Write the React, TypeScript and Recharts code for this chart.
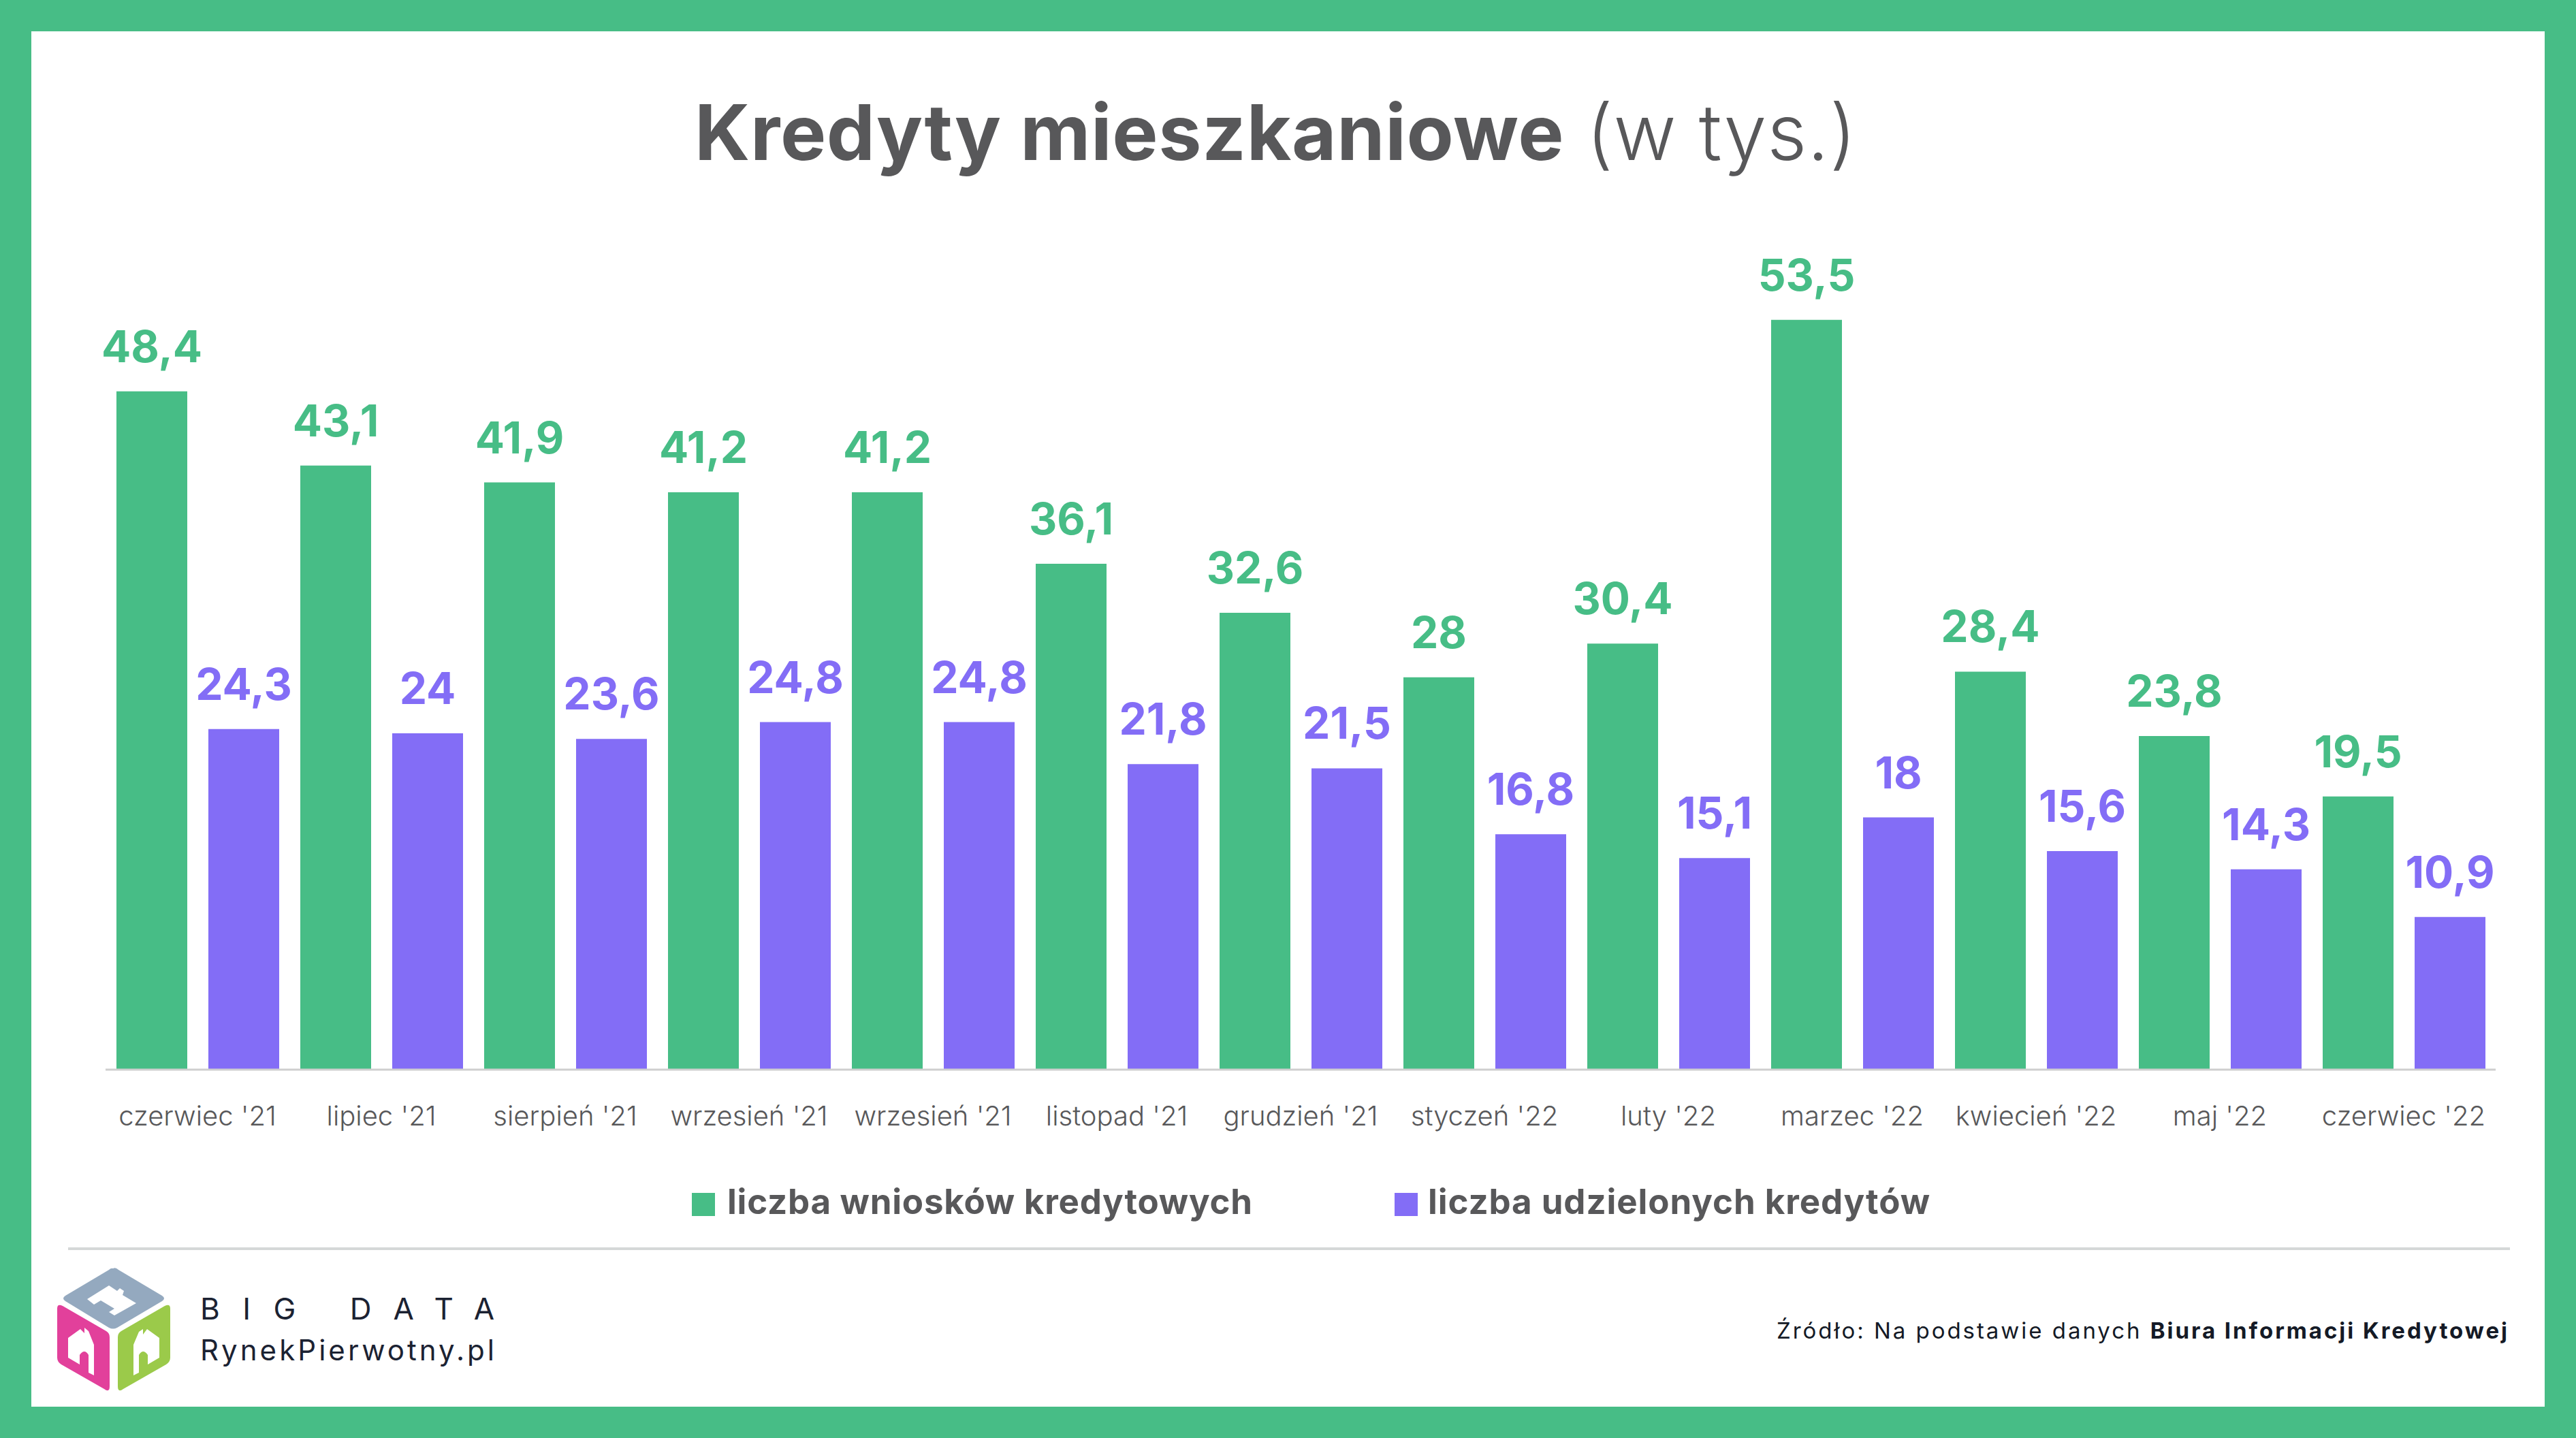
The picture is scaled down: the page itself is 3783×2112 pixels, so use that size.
import React from "react";
import { BarChart, Bar, XAxis, YAxis, LabelList } from "recharts";

// Months on the category axis
const months = [
  "czerwiec '21",
  "lipiec '21",
  "sierpień '21",
  "wrzesień '21",
  "wrzesień '21",
  "listopad '21",
  "grudzień '21",
  "styczeń '22",
  "luty '22",
  "marzec '22",
  "kwiecień '22",
  "maj '22",
  "czerwiec '22",
];

// Values in thousands
const applications = [48.4, 43.1, 41.9, 41.2, 41.2, 36.1, 32.6, 28, 30.4, 53.5, 28.4, 23.8, 19.5];
const granted = [24.3, 24, 23.6, 24.8, 24.8, 21.8, 21.5, 16.8, 15.1, 18, 15.6, 14.3, 10.9];

const seriesNames = ["liczba wniosków kredytowych", "liczba udzielonych kredytów"];

const data = months.map((month, i) => ({
  month,
  applications: applications[i],
  granted: granted[i],
}));

const W = 3783;
const H = 2112;
const GREEN = "#47BD86";
const PURPLE = "#836DF6";
const TEXT = "#58585A";
const FONT = "Inter, 'Noto Sans', sans-serif";

const fmt = (v: number) => String(v).replace(".", ",");

const MonthTick = ({ x, y, payload }: any) => (
  <text x={x} y={y + 82} textAnchor="middle" fontFamily={FONT} fontSize={40} fontWeight={300} fill={TEXT}>
    {payload.value}
  </text>
);

const valueLabel = (color: string) => (props: any) => {
  const { x, y, width, value } = props;
  return (
    <text
      x={Number(x) + Number(width) / 2}
      y={Number(y) - 43}
      textAnchor="middle"
      fontFamily={FONT}
      fontSize={64}
      fontWeight={700}
      fill={color}
    >
      {fmt(value)}
    </text>
  );
};

// Cube logo with little houses on each face
const Logo = () => (
  <g>
    <path d="M166 1863 Q170 1861 174 1865 L238 1903 Q244 1907 238 1911 L172 1950 Q166 1953 160 1950 L96 1911 Q90 1907 96 1903 L160 1865 Q163 1862 166 1863 Z" fill="#94A9BF" />
    <path d="M84 1922 Q84 1914 92 1918 L156 1955 Q161 1958 161 1964 L161 2036 Q161 2046 153 2040 L90 2004 Q84 2000 84 1994 Z" fill="#E2409B" />
    <path d="M250 1922 Q250 1914 242 1918 L178 1955 Q173 1958 173 1964 L173 2036 Q173 2046 181 2040 L244 2004 Q250 2000 250 1994 Z" fill="#9BCA4A" />
    {/* top house */}
    <path d="M128 1908 L160 1888 L172 1896 L176 1892 L182 1896 L180 1902 L200 1914 L168 1932 L160 1927 L168 1922 L148 1910 L138 1916 Z" fill="#fff" />
    {/* left house */}
    <path d="M100 1965 L118 1952 L124 1958 L124 1950 L130 1955 L138 1975 L138 2020 L130 2016 L130 1990 Q124 1980 117 1990 L117 2004 L100 1994 Z" fill="#fff" />
    {/* right house */}
    <path d="M234 1965 L216 1952 L210 1960 L210 1952 L204 1956 L196 1975 L196 2020 L204 2016 L204 1990 Q210 1980 217 1990 L217 2004 L234 1994 Z" fill="#fff" />
  </g>
);

const Overlay = () => (
  <svg width={W} height={H} style={{ position: "absolute", left: 0, top: 0, pointerEvents: "none" }}>
    <text x={1020} y={235} fontFamily={FONT} fontSize={113} fill={TEXT} textLength={1706} lengthAdjust="spacing">
      <tspan fontWeight={700}>Kredyty mieszkaniowe</tspan>
      <tspan fontWeight={300}> (w tys.)</tspan>
    </text>

    {/* legend */}
    <rect x={1016} y={1752} width={34} height={34} fill={GREEN} />
    <text x={1068} y={1783} fontFamily={FONT} fontSize={51} fontWeight={700} fill={TEXT} textLength={771} lengthAdjust="spacing">
      {seriesNames[0]}
    </text>
    <rect x={2048} y={1752} width={34} height={34} fill={PURPLE} />
    <text x={2097} y={1783} fontFamily={FONT} fontSize={51} fontWeight={700} fill={TEXT} textLength={737} lengthAdjust="spacing">
      {seriesNames[1]}
    </text>

    <line x1={100} x2={3686} y1={1834} y2={1834} stroke="#D5D8D8" strokeWidth={4} />

    <Logo />
    <text x={294} y={1938} fontFamily={FONT} fontSize={44} fill="#1B2232" textLength={432} lengthAdjust="spacing">
      BIG DATA
    </text>
    <text x={294} y={1998} fontFamily={FONT} fontSize={42} fill="#1B2232" textLength={432} lengthAdjust="spacing">
      RynekPierwotny.pl
    </text>

    <text x={2609} y={1966} fontFamily={FONT} fontSize={33} fill="#141A26" textLength={1073} lengthAdjust="spacing">
      <tspan>Źródło: Na podstawie danych </tspan>
      <tspan fontWeight={700}>Biura Informacji Kredytowej</tspan>
    </text>
  </svg>
);

export default function App() {
  return (
    <div style={{ position: "absolute", left: 0, top: 0, width: W, height: H, background: GREEN, overflow: "hidden" }}>
      <div style={{ position: "absolute", left: 46, top: 46, width: 3691, height: 2020, background: "#fff" }} />
      <div style={{ position: "absolute", left: 0, top: 0 }}>
        <BarChart
          width={W}
          height={H}
          data={data}
          margin={{ top: 336, right: 118, left: 155, bottom: 441 }}
          barGap={31}
        >
          <YAxis hide domain={[0, 60]} />
          <XAxis
            dataKey="month"
            height={100}
            interval={0}
            tickLine={false}
            tickSize={0}
            tickMargin={0}
            axisLine={{ stroke: "#CFCFCF", strokeWidth: 3 }}
            tick={<MonthTick />}
          />
          <Bar dataKey="applications" name={seriesNames[0]} fill={GREEN} barSize={104} isAnimationActive={false}>
            <LabelList dataKey="applications" content={valueLabel(GREEN)} />
          </Bar>
          <Bar dataKey="granted" name={seriesNames[1]} fill={PURPLE} barSize={104} isAnimationActive={false}>
            <LabelList dataKey="granted" content={valueLabel(PURPLE)} />
          </Bar>
        </BarChart>
      </div>
      <Overlay />
    </div>
  );
}
